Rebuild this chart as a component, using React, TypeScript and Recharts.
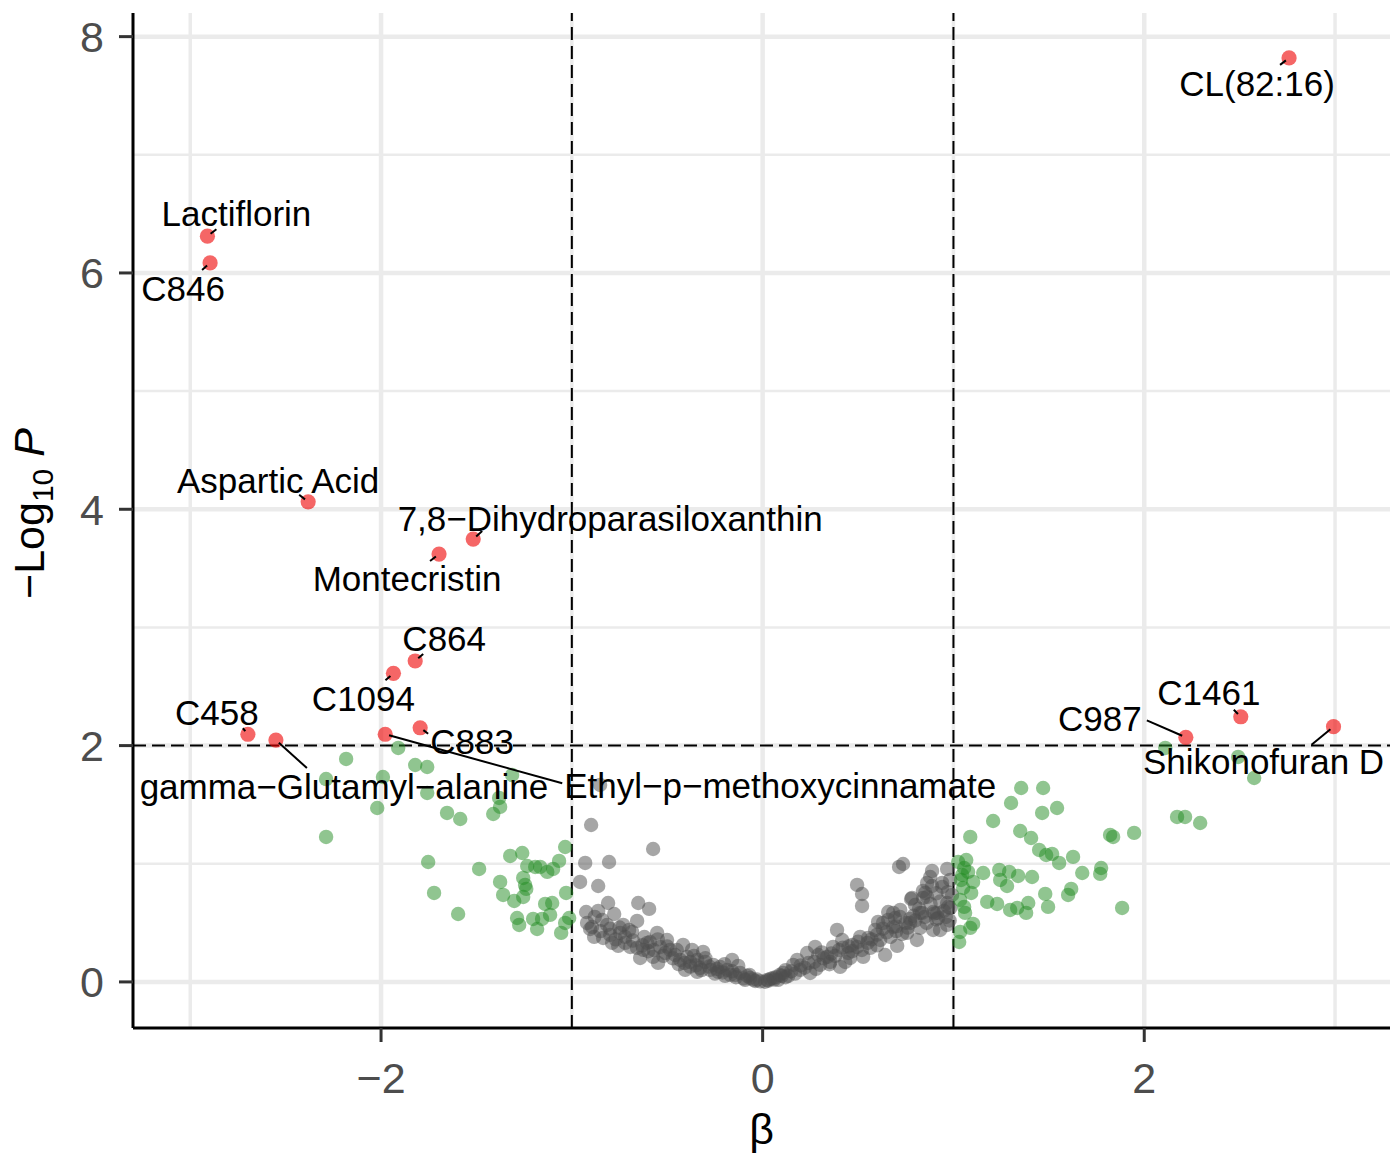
import React from 'react';
import { ScatterChart, Scatter, XAxis, YAxis, ReferenceLine } from 'recharts';

// ---------- data ----------
const grayPoints: [number, number][] = [
  [-0.852, 1.667], [-0.899, 1.328], [-0.574, 1.125], [-0.93, 1.007], [-0.805, 1.015], [-0.957, 0.846],
  [-0.862, 0.812], [-0.81, 0.668], [-0.652, 0.668], [-0.595, 0.618], [-0.925, 0.592], [-0.862, 0.601],
  [-0.778, 0.575], [-0.658, 0.516], [-0.92, 0.499], [-0.894, 0.465], [-0.815, 0.482], [-0.731, 0.482],
  [-0.883, 0.381], [-0.799, 0.398], [-0.747, 0.415], [-0.684, 0.423], [-0.789, 0.33], [-0.694, 0.296],
  [-0.658, 0.288], [-0.59, 0.338], [-0.553, 0.415], [-0.501, 0.355], [-0.574, 0.212], [-0.485, 0.271],
  [-0.417, 0.313], [-0.396, 0.212], [-0.406, 0.102], [-0.343, 0.085], [-0.312, 0.254], [-0.343, 0.186],
  [-0.259, 0.144], [-0.16, 0.186], [-0.186, 0.102], [-0.118, 0.076], [-0.066, 0.034], [-0.013, 0.005],
  [0.024, 0.017], [-0.223, 0.127], [-0.275, 0.102], [-0.841, 0.525], [-0.721, 0.381], [-0.605, 0.33],
  [-0.537, 0.296], [-0.459, 0.228], [-0.38, 0.169], [-0.301, 0.169], [-0.233, 0.085], [-0.144, 0.059],
  [-0.092, 0.017], [-0.039, 0.008], [-0.432, 0.186], [-0.511, 0.245], [-0.626, 0.271], [-0.757, 0.305],
  [-0.836, 0.372], [-0.904, 0.448], [-0.328, 0.118], [-0.197, 0.051], [-0.128, 0.135], [-0.37, 0.271],
  [-0.548, 0.161], [-0.642, 0.203],
  [-0.88, 0.55], [-0.85, 0.43], [-0.8, 0.45], [-0.77, 0.36], [-0.72, 0.33], [-0.68, 0.35], [-0.63, 0.31],
  [-0.6, 0.26], [-0.57, 0.27], [-0.52, 0.22], [-0.47, 0.2], [-0.44, 0.15], [-0.41, 0.16], [-0.38, 0.13],
  [-0.35, 0.14], [-0.32, 0.1], [-0.28, 0.13], [-0.25, 0.07], [-0.21, 0.08], [-0.17, 0.06], [-0.14, 0.04],
  [-0.1, 0.03], [-0.07, 0.06], [-0.03, 0.02],
  [0.715, 0.973], [0.736, 0.998], [0.495, 0.821], [0.521, 0.744], [0.521, 0.643], [0.888, 0.939],
  [0.967, 0.956], [0.862, 0.838], [0.941, 0.804], [0.852, 0.753], [0.841, 0.711], [0.778, 0.702],
  [0.967, 0.668], [0.983, 0.626], [0.721, 0.609], [0.658, 0.592], [0.836, 0.584], [0.894, 0.592],
  [0.92, 0.541], [0.967, 0.482], [0.658, 0.525], [0.605, 0.508], [0.773, 0.499], [0.825, 0.457],
  [0.757, 0.415], [0.705, 0.305], [0.642, 0.228], [0.59, 0.44], [0.553, 0.372], [0.495, 0.296],
  [0.39, 0.44], [0.417, 0.355], [0.369, 0.296], [0.448, 0.245], [0.275, 0.296], [0.233, 0.245],
  [0.338, 0.212], [0.301, 0.144], [0.249, 0.076], [0.16, 0.144], [0.107, 0.076], [0.055, 0.034],
  [0.406, 0.127], [0.527, 0.212], [0.809, 0.355], [0.894, 0.44], [0.684, 0.465], [0.469, 0.313],
  [0.511, 0.381], [0.631, 0.499], [0.684, 0.584], [0.773, 0.533], [0.825, 0.584], [0.915, 0.584],
  [0.972, 0.634], [0.862, 0.719], [0.783, 0.711], [0.888, 0.812], [0.941, 0.838], [0.878, 0.888],
  [0.197, 0.102], [0.134, 0.051], [0.081, 0.017], [0.354, 0.169], [0.459, 0.203], [0.564, 0.288],
  [0.616, 0.355], [0.731, 0.406], [0.93, 0.44], [0.291, 0.228], [0.181, 0.186], [0.433, 0.169],
  [0.013, 0.002], [0.993, 0.736], [0.983, 0.863], [0.799, 0.651], [0.694, 0.541],
  [-0.05, 0.02], [0.04, 0.025], [0.07, 0.04], [-0.08, 0.05], [0.1, 0.05], [-0.16, 0.09], [0.15, 0.09],
  [0.22, 0.12], [-0.24, 0.11], [0.12, 0.1], [-0.2, 0.15], [0.27, 0.17], [-0.3, 0.2], [0.32, 0.2],
  [0.36, 0.24], [-0.36, 0.22], [0.4, 0.27], [-0.45, 0.27], [0.45, 0.3], [-0.5, 0.3], [0.5, 0.34],
  [0.55, 0.33], [-0.55, 0.36], [0.6, 0.4], [-0.62, 0.38], [0.65, 0.42], [0.7, 0.47], [-0.7, 0.44],
  [0.75, 0.5], [-0.75, 0.46], [0.8, 0.52], [0.85, 0.55], [0.9, 0.58], [0.95, 0.6],
  [0.03, 0.01], [0.06, 0.02], [0.09, 0.06], [0.12, 0.04], [0.17, 0.07], [0.2, 0.14], [0.24, 0.16],
  [0.28, 0.11], [0.31, 0.25], [0.35, 0.15], [0.38, 0.22], [0.42, 0.29], [0.47, 0.26], [0.52, 0.27],
  [0.57, 0.36], [0.6, 0.31], [0.63, 0.45], [0.67, 0.38], [0.7, 0.43], [0.72, 0.55], [0.76, 0.46],
  [0.79, 0.56], [0.82, 0.62], [0.86, 0.5], [0.88, 0.66], [0.91, 0.53], [0.93, 0.68], [0.96, 0.55],
  [0.98, 0.52], [0.97, 0.76], [0.91, 0.75], [0.84, 0.77],
];

const greenPoints: [number, number][] = [
  [-1.91, 1.98], [-2.183, 1.887], [-2.288, 1.717], [-1.99, 1.734], [-1.821, 1.836], [-1.758, 1.819],
  [-1.758, 1.599], [-2.02, 1.472], [-1.654, 1.43], [-1.585, 1.379], [-1.381, 1.557], [-1.376, 1.481],
  [-1.412, 1.421], [-1.313, 1.751], [-2.288, 1.227], [-1.753, 1.015], [-1.486, 0.956], [-1.722, 0.753],
  [-1.596, 0.575], [-1.323, 1.066], [-1.26, 1.091], [-1.035, 1.142], [-1.234, 0.981], [-1.192, 0.973],
  [-1.166, 0.973], [-1.129, 0.931], [-1.098, 0.956], [-1.067, 1.024], [-1.376, 0.846], [-1.255, 0.88],
  [-1.245, 0.821], [-1.239, 0.787], [-1.36, 0.736], [-1.302, 0.685], [-1.255, 0.719], [-1.14, 0.66],
  [-1.103, 0.668], [-1.03, 0.753], [-1.287, 0.541], [-1.276, 0.482], [-1.203, 0.533], [-1.156, 0.533],
  [-1.114, 0.567], [-1.182, 0.448], [-1.056, 0.415], [-1.035, 0.499], [-1.014, 0.541],
  [2.11, 1.98], [2.492, 1.904], [2.576, 1.726], [1.355, 1.641], [1.47, 1.641], [1.302, 1.514],
  [1.543, 1.472], [1.465, 1.43], [1.208, 1.362], [1.088, 1.227], [1.35, 1.277], [1.407, 1.218],
  [1.449, 1.117], [1.486, 1.074], [1.517, 1.083], [1.554, 1.007], [1.627, 1.058], [1.821, 1.244],
  [1.837, 1.227], [1.947, 1.261], [2.172, 1.396], [2.214, 1.396], [2.293, 1.345], [1.675, 0.922],
  [1.774, 0.964], [1.769, 0.914], [1.156, 0.922], [1.24, 0.948], [1.245, 0.863], [1.281, 0.812],
  [1.292, 0.931], [1.339, 0.897], [1.412, 0.888], [1.481, 0.745], [1.496, 0.635], [1.601, 0.736],
  [1.617, 0.787], [1.884, 0.626], [1.177, 0.677], [1.229, 0.66], [1.297, 0.609], [1.334, 0.626],
  [1.381, 0.584], [1.392, 0.668], [1.056, 0.964], [1.046, 0.905], [1.103, 0.846], [1.051, 0.795],
  [1.093, 0.753], [1.035, 0.694], [1.056, 0.635], [1.061, 0.584], [1.103, 0.491], [1.088, 0.457],
  [1.035, 0.423], [1.03, 0.338], [1.025, 1.015], [1.067, 1.032], [1.04, 0.863], [1.077, 0.931],
];

const redNames = [
  'CL(82:16)', 'Lactiflorin', 'C846', 'Aspartic Acid', '7,8\u2212Dihydroparasiloxanthin', 'Montecristin',
  'C864', 'C1094', 'C883', 'Ethyl\u2212p\u2212methoxycinnamate', 'C458', 'gamma\u2212Glutamyl\u2212alanine',
  'C987', 'C1461', 'Shikonofuran D',
];
const redX = [2.759, -2.91, -2.896, -2.382, -1.517, -1.696, -1.821, -1.935, -1.795, -1.978, -2.698, -2.551, 2.218, 2.506, 2.992];
const redY = [7.82, 6.311, 6.085, 4.063, 3.748, 3.621, 2.716, 2.612, 2.151, 2.096, 2.096, 2.047, 2.07, 2.244, 2.16];

const xTicks = [-2, 0, 2];
const yTicks = [0, 2, 4, 6, 8];
const xMinorGrid = [-3, -1, 1, 3];
const yMinorGrid = [1, 3, 5, 7];
const xCutoffs = [-1, 1];
const yCutoff = 2;

// ---------- label layout (pixel offsets of text centre / connector end from the point) ----------
const labelLayout = [
  { dx: -32, dy: 25, lx: -9, ly: 7 },
  { dx: 29, dy: -23, lx: 9, ly: -7 },
  { dx: -27, dy: 25, lx: -8, ly: 7 },
  { dx: -30, dy: -21, lx: -9, ly: -7 },
  { dx: 137, dy: -21, lx: 9, ly: -8 },
  { dx: -32, dy: 24, lx: -9, ly: 7 },
  { dx: 29, dy: -23, lx: 8, ly: -7 },
  { dx: -30, dy: 25, lx: -8, ly: 7 },
  { dx: 52, dy: 14, lx: 8, ly: 6 },
  { dx: 395, dy: 51, lx: 177, ly: 49 },
  { dx: -31, dy: -22, lx: -5, ly: -6 },
  { dx: 68, dy: 46, lx: 31, ly: 28 },
  { dx: -86, dy: -19, lx: -39, ly: -17 },
  { dx: -32, dy: -24, lx: -7, ly: -7 },
  { dx: -70, dy: 35, lx: -22, ly: 18 },
];

const FONT = '"Liberation Sans", Arial, Helvetica, sans-serif';

const grayData = grayPoints.map(([x, y]) => ({ x, y }));
const greenData = greenPoints.map(([x, y]) => ({ x, y }));
const redData = redNames.map((name, i) => ({ x: redX[i], y: redY[i], name, i }));

const dot = (r: number, fill: string, opacity: number) => (props: any) => {
  const { cx, cy } = props;
  if (cx == null || cy == null) return <g />;
  return <circle cx={cx} cy={cy} r={r} fill={fill} fillOpacity={opacity} stroke="none" />;
};

const labelShape = (props: any) => {
  const { cx, cy, payload } = props;
  if (cx == null || cy == null) return <g />;
  const L = labelLayout[payload.i];
  const len = Math.sqrt(L.lx * L.lx + L.ly * L.ly);
  const s = 4 / len;
  return (
    <g>
      <line x1={cx + L.lx * s} y1={cy + L.ly * s} x2={cx + L.lx} y2={cy + L.ly} stroke="#000" strokeWidth={2} />
      <text x={cx + L.dx} y={cy + L.dy} dy="0.36em" textAnchor="middle" fontSize={35} fontFamily={FONT} fill="#000">
        {payload.name}
      </text>
    </g>
  );
};

const fmt = (v: number) => (v < 0 ? `\u2212${Math.abs(v)}` : `${v}`);

const YTitle = (props: any) => {
  const vb = props.viewBox || { x: 0, y: 13, width: 133, height: 1015 };
  const x = vb.x + 44;
  const y = vb.y + vb.height / 2 - 7;
  return (
    <text x={x} y={y} transform={`rotate(-90, ${x}, ${y})`} textAnchor="middle" fontSize={43} fontFamily={FONT} fill="#000">
      <tspan>{'\u2212Log'}</tspan>
      <tspan fontSize={30} dy={9}>10</tspan>
      <tspan dy={-9}>{' '}</tspan>
      <tspan fontStyle="italic">P</tspan>
    </text>
  );
};

const XTitle = (props: any) => {
  const vb = props.viewBox || { x: 133, y: 1028, width: 1257, height: 129 };
  return (
    <text x={vb.x + vb.width / 2} y={vb.y + 116} textAnchor="middle" fontSize={43} fontFamily={FONT} fill="#000">
      β
    </text>
  );
};

export default function App() {
  return (
    <div style={{ position: 'absolute', left: 0, top: 0, width: 1390, height: 1157, background: '#fff' }}>
      <ScatterChart width={1390} height={1157} margin={{ top: 13, right: 0, bottom: 0, left: 0 }}>
        <XAxis
          type="number"
          dataKey="x"
          domain={[-3.3, 3.288]}
          ticks={xTicks}
          allowDataOverflow
          tickFormatter={fmt}
          height={129}
          tickSize={14}
          tickMargin={20}
          axisLine={{ stroke: '#000', strokeWidth: 3 }}
          tickLine={{ stroke: '#333', strokeWidth: 3 }}
          tick={{ fontSize: 43, fill: '#4d4d4d', fontFamily: FONT }}
          label={<XTitle />}
        />
        <YAxis
          type="number"
          dataKey="y"
          domain={[-0.39, 8.2]}
          ticks={yTicks}
          allowDataOverflow
          tickFormatter={fmt}
          width={133}
          tickSize={14}
          tickMargin={15}
          axisLine={{ stroke: '#000', strokeWidth: 3 }}
          tickLine={{ stroke: '#333', strokeWidth: 3 }}
          tick={{ fontSize: 43, fill: '#4d4d4d', fontFamily: FONT }}
          label={<YTitle />}
        />
        {yMinorGrid.map((v) => (
          <ReferenceLine key={`ym${v}`} y={v} stroke="#ebebeb" strokeWidth={2.5} />
        ))}
        {xMinorGrid.map((v) => (
          <ReferenceLine key={`xm${v}`} x={v} stroke="#ebebeb" strokeWidth={3.5} />
        ))}
        {yTicks.map((v) => (
          <ReferenceLine key={`yM${v}`} y={v} stroke="#ebebeb" strokeWidth={4.5} />
        ))}
        {xTicks.map((v) => (
          <ReferenceLine key={`xM${v}`} x={v} stroke="#ebebeb" strokeWidth={4.5} />
        ))}
        <Scatter data={grayData} isAnimationActive={false} shape={dot(7.2, '#4d4d4d', 0.5)} />
        <Scatter data={greenData} isAnimationActive={false} shape={dot(7.2, '#228b22', 0.5)} />
        <Scatter data={redData} isAnimationActive={false} shape={dot(7.6, '#ee0000', 0.6)} />
        {xCutoffs.map((v) => (
          <ReferenceLine key={`xc${v}`} x={v} stroke="#000" strokeWidth={2} strokeDasharray="13 6" />
        ))}
        <ReferenceLine y={yCutoff} stroke="#000" strokeWidth={2} strokeDasharray="13 6" />
        <Scatter data={redData} isAnimationActive={false} shape={labelShape} />
      </ScatterChart>
    </div>
  );
}
